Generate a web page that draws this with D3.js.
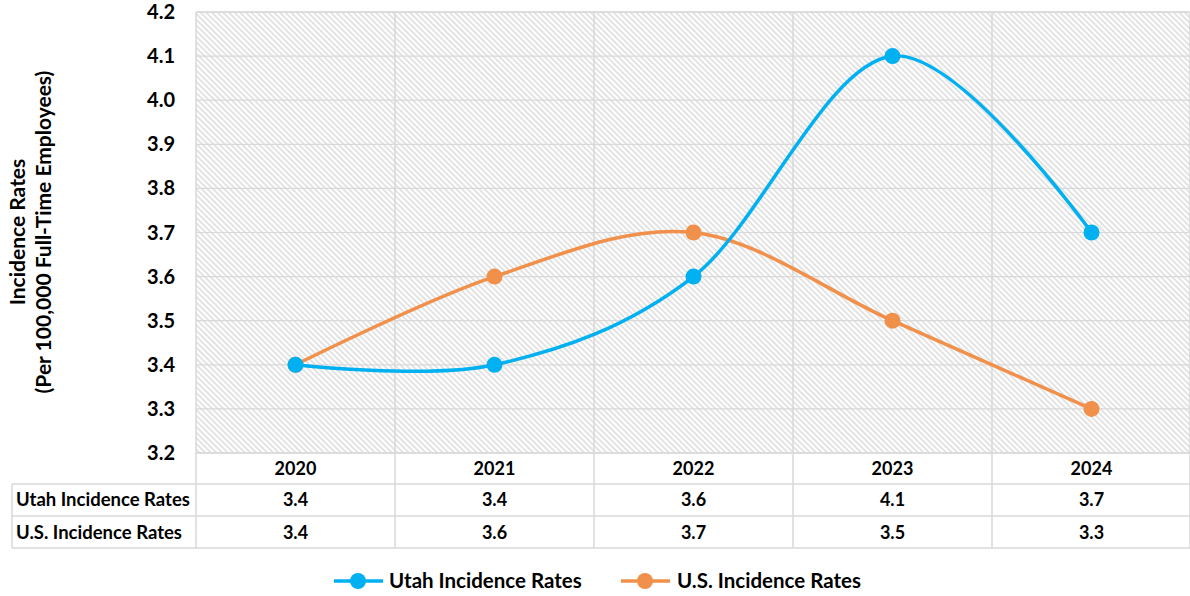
<!DOCTYPE html>
<html><head><meta charset="utf-8">
<script src="https://cdn.jsdelivr.net/npm/d3@7/dist/d3.min.js"></script>
<style>
body{margin:0;background:#fff;}
text{font-family:Lato,"Open Sans",sans-serif;font-weight:700;fill:#000;}
</style></head>
<body><div id="chart"></div>
<script>
// data
var years=["2020","2021","2022","2023","2024"];
var utah=[3.4,3.4,3.6,4.1,3.7];
var us=[3.4,3.6,3.7,3.5,3.3];
var yTicks=[3.2,3.3,3.4,3.5,3.6,3.7,3.8,3.9,4.0,4.1,4.2];
var seriesNames=["Utah Incidence Rates","U.S. Incidence Rates"];
var seriesColors=["#00b0f0","#f0904a"];

var W=1190,H=596;
var svg=d3.select("#chart").append("svg").attr("width",W).attr("height",H);
var L=196,R=1191,T=12,B=453;
var x=d3.scaleBand().domain(years).range([L,R]);
var y=d3.scaleLinear().domain([3.2,4.2]).range([B,T]);
var grid="#d9d9d9";

// hatch
var pat=svg.append("defs").append("pattern").attr("id","hatch").attr("patternUnits","userSpaceOnUse")
    .attr("width",4).attr("height",4).attr("patternTransform","rotate(-45)");
pat.append("rect").attr("width",4).attr("height",4).attr("fill","#fff");
pat.append("line").attr("x1",1).attr("x2",1).attr("y1",0).attr("y2",4).attr("stroke","#d4d4d4").attr("stroke-width",1.3);
svg.append("rect").attr("x",L).attr("y",T).attr("width",R-L).attr("height",B-T).attr("fill","url(#hatch)");

// horizontal gridlines + tick labels
var yg=svg.append("g");
yTicks.forEach(function(t){
    yg.append("line").attr("x1",L).attr("x2",R).attr("y1",y(t)).attr("y2",y(t)).attr("stroke",grid).attr("stroke-width",1.2);
    yg.append("text").attr("x",175).attr("y",y(t)+7).attr("text-anchor","end").attr("font-size",20).text(t.toFixed(1));
});

// table rows
var rowY=[453,484,516,548];
var tb=svg.append("g");
[1,2,3].forEach(function(r){
    tb.append("line").attr("x1",12).attr("x2",R).attr("y1",rowY[r]).attr("y2",rowY[r]).attr("stroke",grid).attr("stroke-width",1.5);
});
tb.append("line").attr("x1",12).attr("x2",12).attr("y1",rowY[1]).attr("y2",rowY[3]).attr("stroke",grid).attr("stroke-width",1.5);
years.forEach(function(yr,i){
    var bx=x(yr);
    tb.append("line").attr("x1",bx).attr("x2",bx).attr("y1",T).attr("y2",rowY[3]).attr("stroke",grid).attr("stroke-width",1.5);
    var cx=bx+x.bandwidth()/2;
    tb.append("text").attr("x",cx).attr("y",475).attr("text-anchor","middle").attr("font-size",18).text(yr);
    tb.append("text").attr("x",cx).attr("y",506).attr("text-anchor","middle").attr("font-size",18).text(utah[i].toFixed(1));
    tb.append("text").attr("x",cx).attr("y",539).attr("text-anchor","middle").attr("font-size",18).text(us[i].toFixed(1));
});
tb.append("line").attr("x1",R-1).attr("x2",R-1).attr("y1",T).attr("y2",rowY[3]).attr("stroke",grid).attr("stroke-width",1.5);
tb.append("line").attr("x1",L).attr("x2",R).attr("y1",T).attr("y2",T).attr("stroke",grid).attr("stroke-width",1.5);
tb.append("line").attr("x1",L).attr("x2",R).attr("y1",B).attr("y2",B).attr("stroke",grid).attr("stroke-width",1.5);
tb.append("text").attr("x",16).attr("y",506).attr("font-size",18.5).text(seriesNames[0]);
tb.append("text").attr("x",16).attr("y",539).attr("font-size",18.5).text(seriesNames[1]);

// series
var line=d3.line().x(function(d,i){return x(years[i])+x.bandwidth()/2;}).y(function(d){return y(d);})
    .curve(d3.curveCardinal.tension(0));
[us,utah].forEach(function(s,k){
    var c=seriesColors[1-k];
    svg.append("path").attr("d",line(s)).attr("fill","none").attr("stroke",c).attr("stroke-width",3.5);
    svg.selectAll(null).data(s).enter().append("circle")
        .attr("cx",function(d,i){return x(years[i])+x.bandwidth()/2;}).attr("cy",function(d){return y(d);})
        .attr("r",8).attr("fill",c);
});

// y title
svg.append("text").attr("transform","translate(25,232) rotate(-90)").attr("text-anchor","middle").attr("font-size",21).text("Incidence Rates");
svg.append("text").attr("transform","translate(51,232) rotate(-90)").attr("text-anchor","middle").attr("font-size",21).text("(Per 100,000 Full-Time Employees)");

// legend
var lg=svg.append("g");
[[334,389],[621,677]].forEach(function(p,k){
    lg.append("line").attr("x1",p[0]).attr("x2",p[0]+49).attr("y1",581).attr("y2",581).attr("stroke",seriesColors[k]).attr("stroke-width",3.5);
    lg.append("circle").attr("cx",p[0]+24).attr("cy",581).attr("r",8).attr("fill",seriesColors[k]);
    lg.append("text").attr("x",p[1]).attr("y",588).attr("font-size",20.5).text(seriesNames[k]);
});
</script></body></html>
